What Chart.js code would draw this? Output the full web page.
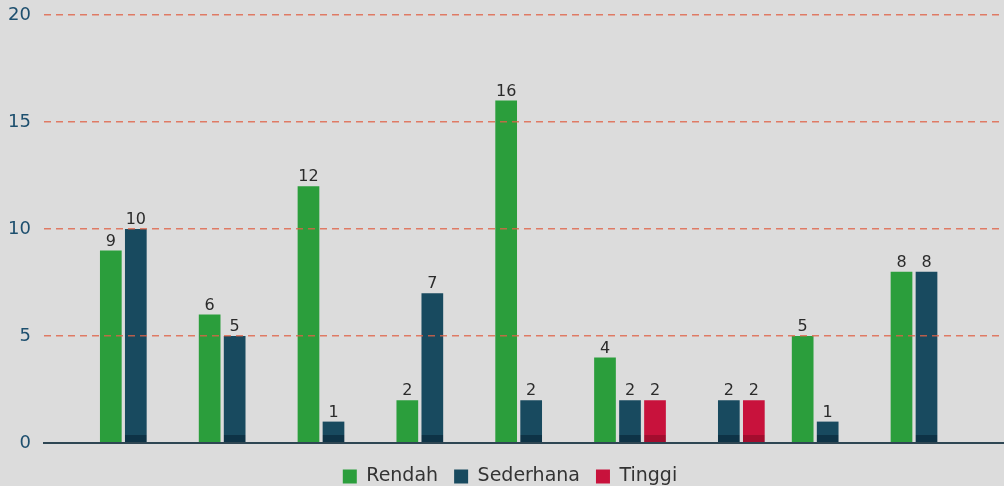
<!DOCTYPE html>
<html>
<head>
<meta charset="utf-8">
<script src="https://cdn.jsdelivr.net/npm/chart.js@4.4.1/dist/chart.umd.min.js"></script>
<style>
  html, body { margin: 0; padding: 0; background: #dcdcdc; }
  #wrap { width: 1004px; height: 486px; position: relative; }
</style>
</head>
<body>
<div id="wrap"><canvas id="chart"></canvas></div>
<script>
// data (x labels are not shown in the original)
const categories = [0, 1, 2, 3, 4, 5, 6, 7, 8];
const rendah = [9, 6, 12, 2, 16, 4, null, 5, 8];
const sederhana = [10, 5, 1, 7, 2, 2, 2, 1, 8];
const tinggi = [null, null, null, null, null, 2, 2, null, null];
const seriesNames = ["Rendah", "Sederhana", "Tinggi"];
const yTicks = [0, 5, 10, 15, 20];

const colors = ["#2b9e3c", "#184a5f", "#c8123c"];
const darkColors = ["#2b9e3c", "#0e3346", "#a30d2e"];
const FONT = "'DejaVu Sans', sans-serif";

// darker strip at the foot of each bar
function footFill(base, dark) {
  return (c) => {
    const area = c.chart.chartArea;
    if (!area) return base;
    const g = c.chart.ctx.createLinearGradient(0, area.bottom - 8, 0, area.bottom);
    g.addColorStop(0, base);
    g.addColorStop(0.01, dark);
    g.addColorStop(1, dark);
    return g;
  };
}

function toPoints(values) {
  return values.map((v, i) => ({ x: categories[i], y: v }));
}

// value above each bar
const valueLabels = {
  id: "valueLabels",
  afterDatasetsDraw(chart) {
    const ctx = chart.ctx;
    ctx.save();
    ctx.font = "16px " + FONT;
    ctx.fillStyle = "#2b2b2b";
    ctx.textAlign = "center";
    ctx.textBaseline = "bottom";
    chart.data.datasets.forEach((ds, di) => {
      const meta = chart.getDatasetMeta(di);
      meta.data.forEach((bar, i) => {
        const v = ds.data[i].y;
        if (v === null) return;
        ctx.fillText(v, bar.x, bar.y - 1);
      });
    });
    ctx.restore();
  },
};

// nudge the legend a little to the right, like the original
const legendNudge = {
  id: "legendNudge",
  afterLayout(chart) {
    if (!chart.legend) return;
    chart.legend.left += 8;
    chart.legend.right += 8;
  },
};

const allSeries = [rendah, sederhana, tinggi];

new Chart(document.getElementById("chart"), {
  type: "bar",
  data: {
    datasets: allSeries.map((vals, i) => ({
      label: seriesNames[i],
      data: toPoints(vals),
      backgroundColor: footFill(colors[i], darkColors[i]),
      borderWidth: 0,
      categoryPercentage: 0.759,
      barPercentage: 0.868,
    })),
  },
  options: {
    responsive: true,
    maintainAspectRatio: false,
    animation: false,
    layout: { padding: { top: 15, right: 0, left: 0, bottom: -10 } },
    scales: {
      x: {
        type: "linear",
        offset: false,
        min: -0.929,
        max: 8.784,
        afterBuildTicks: (s) => {
          s.ticks = categories.map((c) => ({ value: c }));
        },
        ticks: { display: false },
        grid: { display: false, offset: false },
        border: { display: true, color: "#2e4653", width: 2, z: 2 },
      },
      y: {
        min: 0,
        max: 20,
        afterBuildTicks: (s) => {
          s.ticks = yTicks.map((v) => ({ value: v }));
        },
        afterFit: (s) => {
          s.width = 44;
          s.paddingTop = 0;
          s.paddingBottom = 0;
        },
        ticks: {
          color: "#1d4f6e",
          font: { family: FONT, size: 18 },
          padding: 13,
        },
        grid: {
          // the zero line is the dark x-axis border, so hide the dashed one there
          color: (c) => (c.index === 0 ? "rgba(0,0,0,0)" : "rgba(224, 98, 70, 0.8)"),
          lineWidth: 1.5,
          drawTicks: false,
          z: 1,
        },
        border: { display: false, dash: [7, 5] },
      },
    },
    plugins: {
      tooltip: { enabled: false },
      legend: {
        position: "bottom",
        labels: {
          color: "#333333",
          font: { family: FONT, size: 19 },
          boxWidth: 14,
          boxHeight: 14,
          padding: 16,
          generateLabels: (ch) =>
            Chart.defaults.plugins.legend.labels.generateLabels(ch).map((it, i) => ({
              ...it,
              fillStyle: colors[i],
              strokeStyle: colors[i],
              lineWidth: 0,
            })),
        },
      },
    },
  },
  plugins: [valueLabels, legendNudge],
});
</script>
</body>
</html>
